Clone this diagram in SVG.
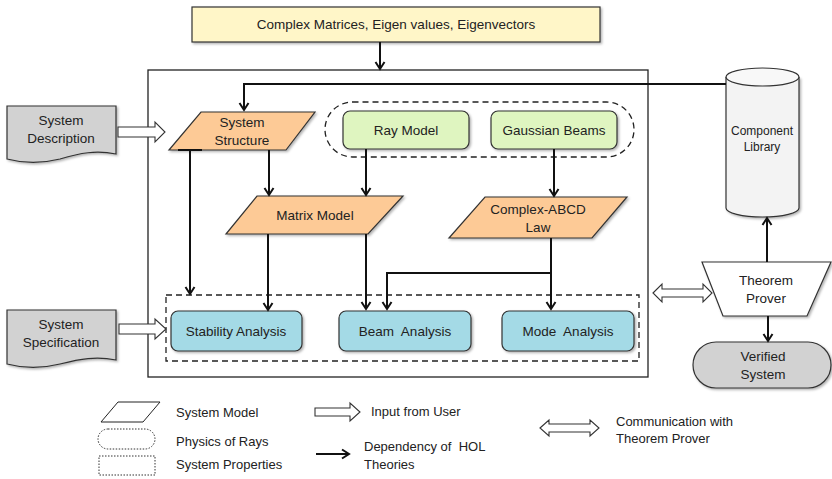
<svg xmlns="http://www.w3.org/2000/svg" width="832" height="479" viewBox="0 0 832 479">
<style>
text{font-family:"Liberation Sans",Arial,sans-serif;font-size:13.5px;fill:#222;}
.c{text-anchor:middle;}
.sm{font-size:12px;}
.lg{font-size:13px;}
.ln{fill:none;stroke:#111;stroke-width:2;}
.ol{stroke:#333;stroke-width:1.2;}
.dash{fill:none;stroke:#222;stroke-width:1.3;stroke-dasharray:6 4;}
.dot{fill:none;stroke:#333;stroke-width:1;stroke-dasharray:1.5 1.5;}
.peach{fill:#fdca96;}
.green{fill:#dff5c0;}
.blue{fill:#a4dae6;}
.grey{fill:#d2d2d2;}
.blk{fill:#fff;stroke:#333;stroke-width:1.1;}
</style>
<defs>
<marker id="ah" markerUnits="userSpaceOnUse" markerWidth="12" markerHeight="12" viewBox="-10 -6 12 12" refX="0" refY="0" orient="auto">
<path d="M-7,-4.5 L0,0 L-7,4.5" fill="none" stroke="#111" stroke-width="2"/>
</marker>
<filter id="sh" x="-10%" y="-10%" width="130%" height="140%">
<feDropShadow dx="1.5" dy="1.5" stdDeviation="1" flood-color="#000" flood-opacity="0.3"/>
</filter>
</defs>

<g id="top">
<rect x="192" y="7" width="408" height="35" fill="#fff6c8" class="ol" filter="url(#sh)"/>
<text x="396" y="29" class="c">Complex Matrices, Eigen values, Eigenvectors</text>
</g>

<g id="mainbox">
<rect x="148" y="70" width="500" height="307" fill="none" stroke="#222" stroke-width="1.3"/>
</g>

<g id="physics">
<rect x="325" y="102" width="309" height="55" rx="27.5" ry="27.5" class="dash"/>
</g>
<g id="sysprops">
<rect x="166" y="295" width="473" height="66" class="dash"/>
</g>

<g id="sysdesc">
<path d="M7,106 H116 V154 C96,150 80,153 60,159 C40,164 22,163 7,159 Z" class="grey ol" filter="url(#sh)"/>
<text x="61" y="125" class="c">System</text>
<text x="61" y="143" class="c">Description</text>
</g>
<g id="sysspec">
<path d="M7,310 H116 V360 C96,356 80,359 60,364 C40,369 22,368 7,364 Z" class="grey ol" filter="url(#sh)"/>
<text x="61" y="329" class="c">System</text>
<text x="61" y="347" class="c">Specification</text>
</g>

<g id="sysstruct">
<polygon points="201,112 315,112 286,150 169,150" class="peach ol" filter="url(#sh)"/>
<line x1="178" y1="150" x2="202" y2="150" stroke="#111" stroke-width="2"/>
<text x="242" y="127" class="c">System</text>
<text x="242" y="145" class="c">Structure</text>
</g>
<g id="raymodel">
<rect x="343" y="111" width="126" height="38" rx="7" class="green ol" filter="url(#sh)"/>
<text x="406" y="135" class="c">Ray Model</text>
</g>
<g id="gauss">
<rect x="491" y="111" width="126" height="38" rx="7" class="green ol" filter="url(#sh)"/>
<text x="554" y="135" class="c">Gaussian Beams</text>
</g>
<g id="matrix">
<polygon points="257,196 403,196 368,234 226,234" class="peach ol" filter="url(#sh)"/>
<text x="315" y="220" class="c">Matrix Model</text>
</g>
<g id="abcd">
<polygon points="485,197 627,197 592,238 449,238" class="peach ol" filter="url(#sh)"/>
<text x="538" y="214" class="c">Complex-ABCD</text>
<text x="538" y="232" class="c">Law</text>
</g>
<g id="stability">
<rect x="171" y="311" width="131" height="40" rx="7" class="blue ol" filter="url(#sh)"/>
<text x="236" y="336" class="c">Stability Analysis</text>
</g>
<g id="beam">
<rect x="339" y="311" width="132" height="40" rx="7" class="blue ol" filter="url(#sh)"/>
<text x="405" y="336" class="c" xml:space="preserve">Beam  Analysis</text>
</g>
<g id="mode">
<rect x="502" y="311" width="132" height="40" rx="7" class="blue ol" filter="url(#sh)"/>
<text x="568" y="336" class="c" xml:space="preserve">Mode  Analysis</text>
</g>

<g id="complib">
<path d="M726,77 V208 A36.5,9 0 0 0 799,208 V77" fill="#f3f3f3" class="ol" filter="url(#sh)"/>
<ellipse cx="762.5" cy="77" rx="36.5" ry="9" fill="#f8f8f8" class="ol"/>
<text x="762" y="135" class="c sm">Component</text>
<text x="762" y="151" class="c sm">Library</text>
</g>
<g id="prover">
<polygon points="702,262 831,262 807,316 723,316" fill="#fff" class="ol" filter="url(#sh)"/>
<text x="766" y="285" class="c">Theorem</text>
<text x="766" y="303" class="c">Prover</text>
</g>
<g id="verified">
<rect x="693" y="342" width="138" height="46" rx="23" ry="23" class="grey ol" filter="url(#sh)"/>
<text x="763" y="361" class="c">Verified</text>
<text x="763" y="379" class="c">System</text>
</g>

<g id="connectors">
<line x1="380" y1="42" x2="380" y2="69" class="ln" marker-end="url(#ah)"/>
<polyline points="726,84 244,84 244,110" class="ln" marker-end="url(#ah)"/>
<line x1="190" y1="151" x2="190" y2="294" class="ln" marker-end="url(#ah)"/>
<line x1="269" y1="150" x2="269" y2="195" class="ln" marker-end="url(#ah)"/>
<line x1="366" y1="149" x2="366" y2="195" class="ln" marker-end="url(#ah)"/>
<line x1="554" y1="149" x2="554" y2="196" class="ln" marker-end="url(#ah)"/>
<line x1="268" y1="234" x2="268" y2="310" class="ln" marker-end="url(#ah)"/>
<line x1="366" y1="234" x2="366" y2="309" class="ln" marker-end="url(#ah)"/>
<line x1="551" y1="238" x2="551" y2="309" class="ln" marker-end="url(#ah)"/>
<polyline points="551,273 387,273 387,309" class="ln" marker-end="url(#ah)"/>
<line x1="767" y1="262" x2="767" y2="218" class="ln" marker-end="url(#ah)"/>
<line x1="768" y1="316" x2="768" y2="341" class="ln" marker-end="url(#ah)"/>
<path d="M118,127 H155 V122 L165,132 L155,142 V137 H118 Z" class="blk"/>
<path d="M119,324 H155 V319 L166,329 L155,339 V334 H119 Z" class="blk"/>
<path d="M653,293 L662,284 V289 H703 V284 L712,293 L703,302 V297 H662 V302 Z" class="blk"/>
</g>

<g id="legend">
<polygon points="118,402 160,402 143,422 101,422" fill="#fff" stroke="#222" stroke-width="1"/>
<text x="176" y="417" class="lg">System Model</text>
<rect x="98" y="429" width="57" height="20" rx="10" class="dot"/>
<text x="176" y="446" class="lg">Physics of Rays</text>
<rect x="99" y="456" width="56" height="19" class="dot"/>
<text x="176" y="469" class="lg">System Properties</text>
<path d="M315,408 H350 V403 L360,412 L350,421 V416 H315 Z" class="blk"/>
<text x="371" y="416" class="lg">Input from User</text>
<line x1="316" y1="454" x2="349" y2="454" class="ln" marker-end="url(#ah)"/>
<text x="364" y="451" class="lg" xml:space="preserve">Dependency of  HOL</text>
<text x="364" y="469" class="lg">Theories</text>
<path d="M540,428 L549,420 V424 H590 V420 L599,428 L590,436 V432 H549 V436 Z" class="blk"/>
<text x="616" y="426" class="lg">Communication with</text>
<text x="616" y="443" class="lg">Theorem Prover</text>
</g>
</svg>
